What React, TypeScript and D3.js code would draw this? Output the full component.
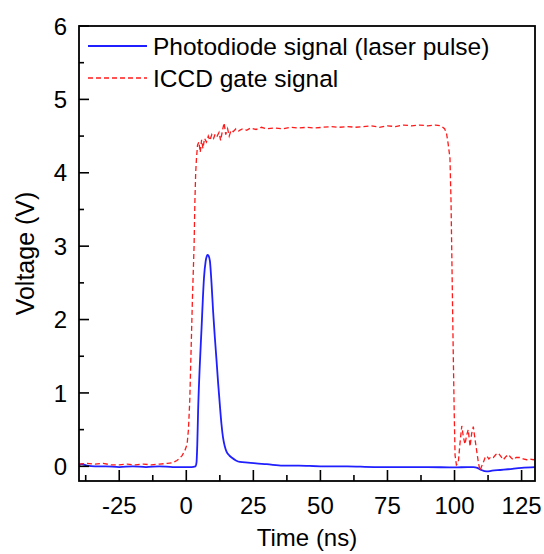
import React from "react";
import * as d3 from "d3";

// ICCD gate signal (red dashed), time in ns / voltage in V
const gateTime = [
  -40, -37, -34, -31, -28, -25, -22, -19, -16, -13, -10, -7, -5, -3.5, -2.5, -1.5, -0.5, 0.3, 0.8, 1.3,
  1.8, 2.3, 2.9, 3.2, 3.5, 3.8, 4.2, 4.7, 5.2, 5.7, 6.2, 6.8, 7.5, 8.2, 8.8, 9.5, 10.2, 10.8, 11.5, 12.2,
  12.8, 13.5, 14.1, 14.7, 15.4, 16, 16.7, 17.5, 18.5, 19.5, 21, 22.5, 24, 26, 28, 30, 33, 36, 39, 42,
  45, 48, 51, 54, 57, 60, 63, 66, 69, 72, 75, 78, 81, 84, 87, 90, 93, 95, 96.3, 97,
  97.6, 98.3, 98.7, 99.1, 99.5, 99.9, 100.2, 100.7, 101.4, 102, 102.7, 103.3, 103.9, 104.5, 105.1, 105.8, 106.4, 107, 107.6, 108.3,
  108.9, 109.5, 110.1, 110.7, 111.4, 112, 112.8, 113.6, 114.5, 115.4, 116.3, 117.2, 118.2, 119.1, 120.1, 121, 121.9, 123, 124.4, 125.6,
  126.9, 128.1, 129.4, 130,
];
const gateVoltage = [
  0.03, 0.04, 0.03, 0.04, 0.02, 0.02, 0.03, 0.02, 0.03, 0.02, 0.03, 0.04, 0.05, 0.08, 0.11, 0.15, 0.22, 0.3, 0.5, 0.9,
  1.6, 2.3, 3.0, 3.6, 4.0, 4.2, 4.38, 4.42, 4.28, 4.45, 4.33, 4.47, 4.42, 4.5, 4.44, 4.52, 4.47, 4.53, 4.5, 4.55,
  4.44, 4.58, 4.68, 4.52, 4.6, 4.5, 4.58, 4.56, 4.6, 4.57, 4.6, 4.58, 4.61, 4.59, 4.62, 4.6, 4.61, 4.6, 4.62, 4.61,
  4.62, 4.61, 4.62, 4.63, 4.62, 4.63, 4.62, 4.63, 4.64, 4.62, 4.64, 4.63, 4.65, 4.64, 4.65, 4.64, 4.65, 4.64, 4.6, 4.54,
  4.4, 4.2, 3.6, 2.6, 1.6, 0.7, 0.15, 0.02, 0.05, 0.3, 0.55, 0.4, 0.3, 0.42, 0.5, 0.27, 0.45, 0.54, 0.38, 0.2,
  0.05, -0.06, 0.0, 0.05, 0.12, 0.14, 0.1, 0.13, 0.12, 0.16, 0.18, 0.14, 0.09, 0.13, 0.16, 0.12, 0.09, 0.12, 0.12, 0.1,
  0.09, 0.1, 0.09, 0.1,
];

// Photodiode signal (blue solid)
const diodeTime = [
  -40, -39, -37, -34, -30, -25, -20, -15, -10, -5, 0, 2, 3.4, 3.8, 4.1, 4.4, 5.0, 5.7, 6.2, 6.6,
  7.2, 7.6, 7.9, 8.3, 8.8, 9.4, 10, 10.6, 11.3, 11.9, 12.5, 13.1, 13.7, 14.3, 15, 16, 16.9, 18.5, 20, 23,
  26, 30, 36, 42, 50, 60, 70, 80, 90, 100, 105, 107, 108.5, 110, 112, 114, 117, 120, 125, 130,
];
const diodeVoltage = [
  0.02, 0.03, 0.01, 0.0, 0.0, -0.01, 0.0, -0.01, 0.0, -0.01, -0.01, -0.01, 0.0, 0.05, 0.3, 0.75, 1.35, 1.89, 2.3, 2.57,
  2.79, 2.86, 2.88, 2.87, 2.8, 2.5, 2.11, 1.78, 1.43, 1.12, 0.84, 0.58, 0.39, 0.28, 0.2, 0.15, 0.12, 0.08, 0.06, 0.05,
  0.04, 0.03, 0.01, 0.01, 0.0, 0.0, -0.01, -0.01, -0.01, -0.015, -0.01, -0.01, -0.02, -0.05, -0.07, -0.06, -0.05, -0.04, -0.02, -0.01,
];

const xTicks = [-25, 0, 25, 50, 75, 100, 125];
const xMinor = [-37.5, -12.5, 12.5, 37.5, 62.5, 87.5, 112.5];
const yTicks = [0, 1, 2, 3, 4, 5, 6];
const yMinor = [0.5, 1.5, 2.5, 3.5, 4.5, 5.5];

const legendLabels = ["Photodiode signal (laser pulse)", "ICCD gate signal"];

const W = 544;
const H = 554;
const m = { left: 79, right: 9, top: 26, bottom: 73 };
const FONT = "Liberation Sans, Arial, Helvetica, sans-serif";

export default function App() {
  const x = d3.scaleLinear().domain([-40, 130]).range([m.left, W - m.right]);
  const y = d3.scaleLinear().domain([-0.2, 6]).range([H - m.bottom, m.top]);

  const gate = gateTime.map((t, i) => [t, gateVoltage[i]] as [number, number]);
  const diode = diodeTime.map((t, i) => [t, diodeVoltage[i]] as [number, number]);

  const gateLine = d3.line<[number, number]>().x((d) => x(d[0])).y((d) => y(d[1]));
  const diodeLine = d3
    .line<[number, number]>()
    .x((d) => x(d[0]))
    .y((d) => y(d[1]))
    .curve(d3.curveMonotoneX);

  const x0 = m.left;
  const x1 = W - m.right;
  const y0 = H - m.bottom;
  const y1 = m.top;

  return (
    <div style={{ position: "absolute", left: 0, top: 0 }}>
      <svg width={W} height={H} style={{ display: "block", background: "#fff" }} fontFamily={FONT}>
        <defs>
          <clipPath id="plot">
            <rect x={x0} y={y1} width={x1 - x0} height={y0 - y1} />
          </clipPath>
        </defs>

        <g clipPath="url(#plot)">
          <path d={diodeLine(diode) || ""} fill="none" stroke="#1f1fff" strokeWidth={1.8} />
          <path
            d={gateLine(gate) || ""}
            fill="none"
            stroke="#ff1a1a"
            strokeWidth={1.3}
            strokeDasharray="5,3"
          />
        </g>

        {/* frame */}
        <rect x={x0} y={y1} width={x1 - x0} height={y0 - y1} fill="none" stroke="#000" strokeWidth={1.8} />

        {/* x ticks */}
        {xTicks.map((t) => (
          <g key={"x" + t}>
            <line x1={x(t)} x2={x(t)} y1={y0} y2={y0 - 11} stroke="#000" strokeWidth={1.6} />
            <text x={x(t)} y={514} textAnchor="middle" fontSize={24}>
              {t}
            </text>
          </g>
        ))}
        {xMinor.map((t) => (
          <line key={"xm" + t} x1={x(t)} x2={x(t)} y1={y0} y2={y0 - 6} stroke="#000" strokeWidth={1.6} />
        ))}

        {/* y ticks */}
        {yTicks.map((t) => (
          <g key={"y" + t}>
            <line x1={x0} x2={x0 + 10} y1={y(t)} y2={y(t)} stroke="#000" strokeWidth={1.6} />
            <text x={67} y={y(t)} dy="0.36em" textAnchor="end" fontSize={24}>
              {t}
            </text>
          </g>
        ))}
        {yMinor.map((t) => (
          <line key={"ym" + t} x1={x0} x2={x0 + 5} y1={y(t)} y2={y(t)} stroke="#000" strokeWidth={1.6} />
        ))}

        {/* axis titles */}
        <text x={(x0 + x1) / 2} y={546} textAnchor="middle" fontSize={24}>
          Time (ns)
        </text>
        <text transform={`translate(34, ${(y0 + y1) / 2}) rotate(-90)`} textAnchor="middle" fontSize={25}>
          Voltage (V)
        </text>

        {/* legend */}
        <line x1={88} x2={147} y1={46} y2={46} stroke="#1f1fff" strokeWidth={1.8} />
        <text x={153} y={55} fontSize={24.5}>
          {legendLabels[0]}
        </text>
        <line x1={88} x2={147} y1={78} y2={78} stroke="#ff1a1a" strokeWidth={1.3} strokeDasharray="5,3" />
        <text x={153} y={87} fontSize={24.5}>
          {legendLabels[1]}
        </text>
      </svg>
    </div>
  );
}
